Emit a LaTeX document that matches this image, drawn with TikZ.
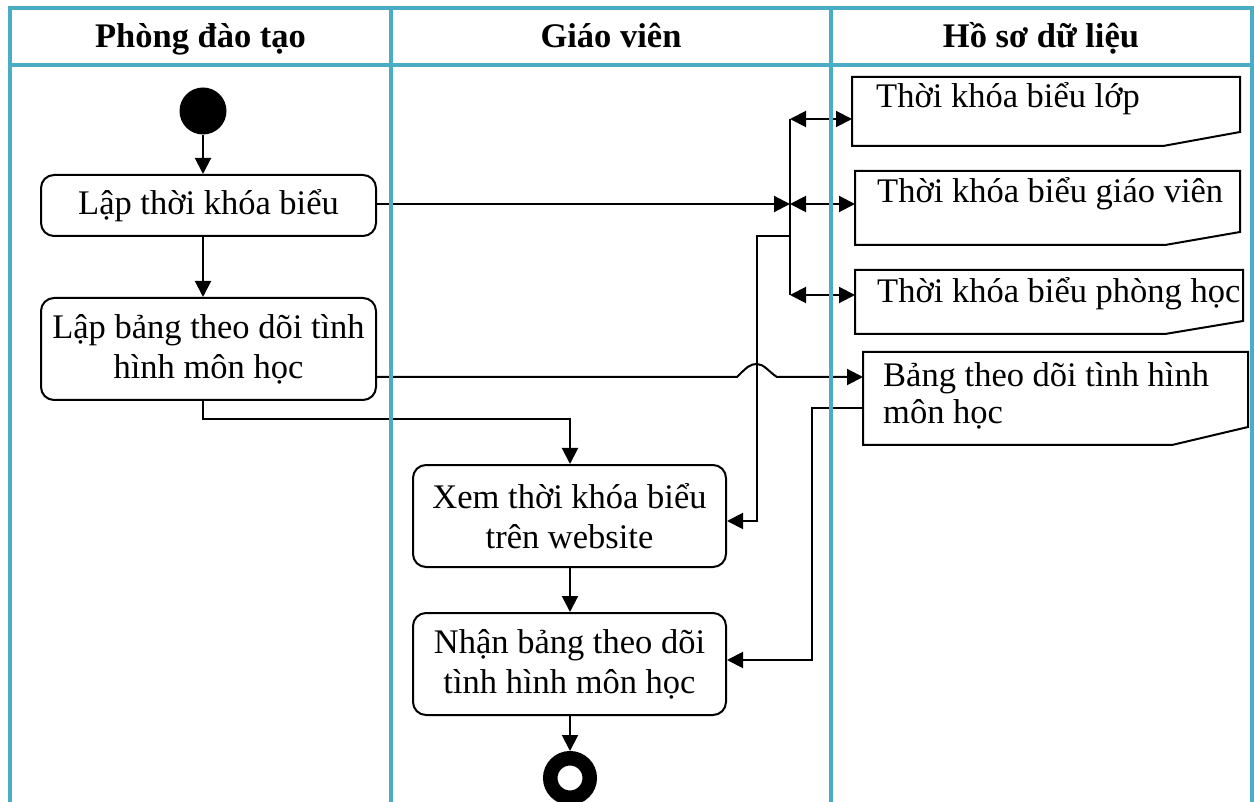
\documentclass[tikz,border=0pt]{standalone}
\usepackage{fontspec}
\setmainfont{Liberation Serif}
\usetikzlibrary{arrows.meta,calc}
\definecolor{lanecol}{RGB}{75,172,198}

% outline of a data document: flat top, bottom-right corner cut at a slant
\newcommand\docoutline[3]{%
  \draw[wire] (#1.north west) -- (#1.north east) -- ([yshift=#2pt]#1.south east)
    -- ([xshift=-#3pt]#1.south east) -- (#1.south west) -- cycle;}

\begin{document}
\begin{tikzpicture}[x=1pt,y=-1pt,
  font=\fontsize{34.5}{40}\selectfont,
  lane/.style={draw=lanecol,line width=3.5pt},
  head/.style={font=\fontsize{34.5}{40}\selectfont\bfseries,inner sep=0pt,anchor=base},
  act/.style={draw,line width=2pt,rounded corners=13pt,align=center,inner sep=0pt},
  docbox/.style={inner sep=0pt,outer sep=0pt,anchor=north west},
  doctxt/.style={inner sep=0pt,anchor=base west,align=left},
  wire/.style={line width=2pt},
  tip/.tip={Triangle[length=16pt,width=16pt]},
  flow/.style={wire,-tip},
  both/.style={wire,tip-tip},
]
\useasboundingbox (0,0) rectangle (1254,802);
\clip (0,0) rectangle (1254,802);

% lane headers
\node[head] (h1) at (200.5,48) {Phòng đào tạo};
\node[head] (h2) at (611,48) {Giáo viên};
\node[head] (h3) at (1041,48) {Hồ sơ dữ liệu};

% start / end
\node[circle,fill,inner sep=0pt,minimum size=47pt] (start) at (203,111) {};
\node[circle,draw,line width=14.5pt,inner sep=0pt,minimum size=39.5pt] (stop) at (570,778) {};

% activities
\node[act,minimum width=335pt,minimum height=61pt] (a1) at (208.5,205.5) {Lập thời khóa biểu};
\node[act,minimum width=335pt,minimum height=102pt] (a2) at (208.5,349) {Lập bảng theo dõi tình\\hình môn học};
\node[act,minimum width=313pt,minimum height=102pt] (a3) at (569.5,516) {Xem thời khóa biểu\\trên website};
\node[act,minimum width=313pt,minimum height=102pt] (a4) at (569.5,664) {Nhận bảng theo dõi\\tình hình môn học};

% data documents
\node[docbox,minimum width=388pt,minimum height=69pt] (d1) at (852,77) {};
\node[docbox,minimum width=385pt,minimum height=74pt] (d2) at (855,171) {};
\node[docbox,minimum width=388pt,minimum height=64pt] (d3) at (855,270) {};
\node[docbox,minimum width=385pt,minimum height=93pt] (d4) at (863,352) {};
\docoutline{d1}{14}{77}
\docoutline{d2}{13}{75}
\docoutline{d3}{13}{78}
\docoutline{d4}{18}{76}
\node[doctxt] (t1) at ([xshift=24pt,yshift=-31pt]d1.north west) {Thời khóa biểu lớp};
\node[doctxt] (t2) at ([xshift=22pt,yshift=-32pt]d2.north west) {Thời khóa biểu giáo viên};
\node[doctxt] (t3) at ([xshift=22pt,yshift=-33pt]d3.north west) {Thời khóa biểu phòng học};
\node[doctxt,font=\fontsize{34.5}{37}\selectfont] (t4) at ([xshift=20pt,yshift=-72pt]d4.north west) {Bảng theo dõi tình hình\\môn học};

% routing points
\coordinate (j1) at (790,119);
\coordinate (j2) at (790,204);
\coordinate (j3) at (790,295);
\coordinate (jb) at (790,236);
\coordinate (k1) at (757,236);
\coordinate (k2) at (757,521);
\coordinate (m1) at (203,419);
\coordinate (m2) at (570,419);
\coordinate (hA) at (737,377);
\coordinate (r1) at (812,408);
\coordinate (r2) at (812,660);

% timetable fan-out
\draw[wire] (j1) -- (j3);
\draw[both] (j1) -- (j1 -| d1.west);
\draw[both] (j2) -- (j2 -| d2.west);
\draw[both] (j3) -- (j3 -| d3.west);
\draw[flow] (a1.east |- j2) -- (j2);
\draw[flow] (jb) -- (k1) -- (k2) -- (k2 -| a3.east);

% main flow
\draw[flow] (start) -- (start |- a1.north);
\draw[flow] (a1.south -| start) -- (a2.north -| start);
\draw[flow] (a2.south -| m1) -- (m1) -- (m2) -- (a3.north -| m2);
\draw[flow] (a3.south -| m2) -- (a4.north -| m2);
\draw[flow] (a4.south -| m2) -- (stop);

% tracking sheet, hopping over the timetable line
\draw[flow] (a2.east |- hA) -- (hA) .. controls (747,367) and (750,364) .. (757,364)
  .. controls (764,364) and (769,372) .. (777,377) -- (hA -| d4.west);
\draw[flow] (d4.west |- r1) -- (r1) -- (r2) -- (r2 -| a4.east);

% swimlane frame
\draw[lane] (10,802) -- (10,8) -- (1252,8) -- (1252,802);
\draw[lane,line width=4.5pt] (10,65) -- (1252,65);
\draw[lane] (391,8) -- (391,802);
\draw[lane] (831,8) -- (831,802);
\end{tikzpicture}
\end{document}
